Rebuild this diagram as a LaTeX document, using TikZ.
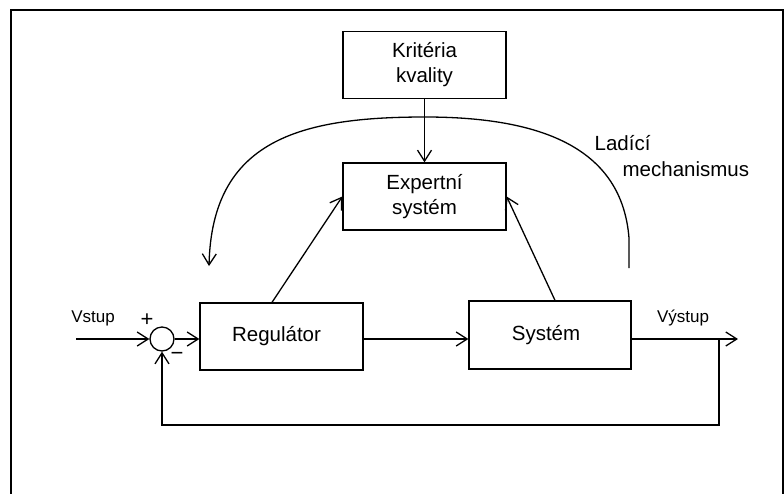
\documentclass[tikz,border=0pt]{standalone}
\usepackage{fontspec}
\setmainfont{Liberation Sans}
\usetikzlibrary{arrows.meta}
\begin{document}
\begin{tikzpicture}[x=1pt,y=-1pt,
  line width=1.3pt,
  >={Straight Barb[length=11pt,width=14pt]},
  blk/.style={draw,rectangle,minimum width=163pt,minimum height=67pt,inner sep=0pt,
    font=\fontsize{20.5}{25}\selectfont,align=center},
  lbl/.style={inner sep=0pt,font=\fontsize{20.5}{25}\selectfont},
  slbl/.style={inner sep=0pt,font=\fontsize{17}{20}\selectfont},
  sgn/.style={inner sep=0pt,font=\fontsize{22}{24}\selectfont},
  sumc/.style={draw,circle,minimum size=24pt,inner sep=0pt}]
\useasboundingbox (0,0) rectangle (784,493);
\fill[white] (0,0) rectangle (784,493);
% frame
\draw[line width=2.5pt] (11,500) -- (11,10) -- (783,10) -- (783,500);
% blocks
\node[blk] (krit) at (424.5,65) {Kritéria\\kvality};
\node[blk] (exp) at (424.5,196.5) {Expertní\\systém};
\node[blk] (reg) at (281.5,336.5) {Regulátor\hspace*{10pt}};
\node[blk,minimum width=162pt,minimum height=68pt] (sys) at (550,335) {Systém\hspace*{8pt}};
\node[sumc] (sum) at (162,339) {};
% free ends
\coordinate (in) at (76,339);
\coordinate (out) at (738,339);
\coordinate (fb) at (719,339);
\coordinate (arcs) at (629,268);
\coordinate (arce) at (209,266);
% labels
\node[slbl] (vstup) at (93,318) {Vstup};
\node[slbl] (vystup) at (683,318) {Výstup};
\node[sgn] (plus) at (147,320) {+};
\node[sgn] (minus) at (177,356) {−};
\node[lbl,anchor=west] (lad) at (594,143) {Ladící};
\node[lbl,anchor=west] (mech) at (622,169) {mechanismus};
% connectors
\draw[->] (in) -- (sum.west);
\draw[->] (sum.east) -- (sum.east -| reg.west);
\draw[->] (sum -| reg.east) -- (sum -| sys.west);
\draw[->] (sum -| sys.east) -- (out);
\draw[->] (fb) -- (719,425) -| (sum.south);
\draw[->] (krit.south) -- (exp.north);
\draw[->] ([xshift=-9.5pt]reg.north) -- (exp.west);
\draw[->] ([xshift=5pt]sys.north) -- (exp.east);
\draw[->] (arcs) -- (629,238) .. controls (622,150) and (545,117) .. (425,117)
  .. controls (300,117) and (212,140) .. (arce);
\end{tikzpicture}
\end{document}
